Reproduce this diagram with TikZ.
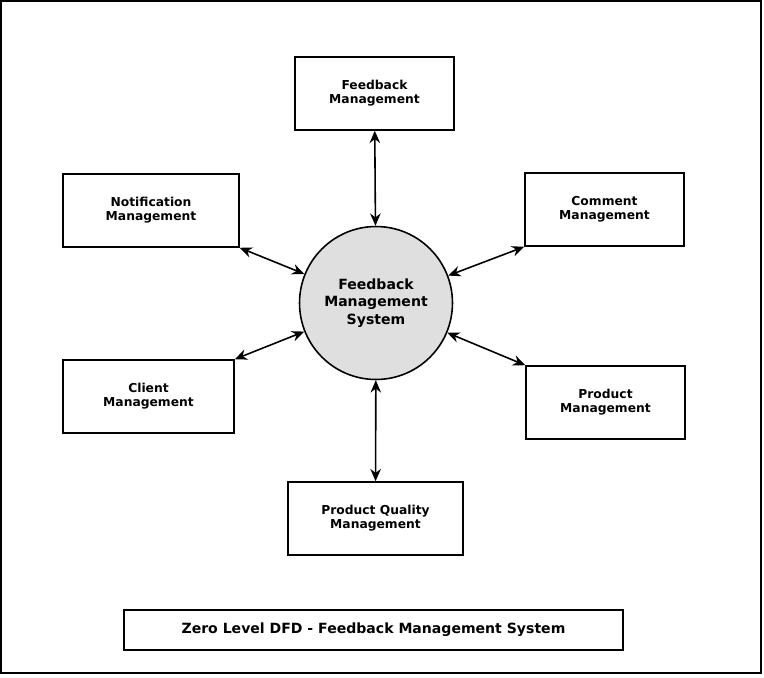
\documentclass[tikz,border=0pt]{standalone}
\usepackage{fontspec}
\setmainfont{DejaVu Sans}
\usetikzlibrary{arrows.meta}
\begin{document}
\begin{tikzpicture}[x=0.02cm, y=-0.02cm, >={Stealth[length=7pt,width=6pt]}, line width=0.9pt]
        \tikzset{block/.style = {draw, rectangle, minimum height=1.46cm, align=center, font=\fontsize{7}{8}\selectfont\bfseries}}
        \useasboundingbox (0,0) rectangle (764,677);
        \draw (1,1) rectangle (761,673);

        \node [circle, draw, fill=gray!25, minimum size=3.06cm, align=center, font=\fontsize{8}{10}\selectfont\bfseries] (sys) at (376,303) {Feedback\\ Management\\ System};
        \node [block, minimum width=3.18cm] (fbm) at (374.5,93.5) {Feedback\\ Management};
        \node [block, minimum width=3.52cm] (notif) at (151,210.5) {Notification\\ Management};
        \node [block, minimum width=3.18cm] (comment) at (604.5,209.5) {Comment\\ Management};
        \node [block, minimum width=3.42cm] (client) at (148.5,396.5) {Client\\ Management};
        \node [block, minimum width=3.18cm] (product) at (605.5,402.5) {Product\\ Management};
        \node [block, minimum width=3.5cm] (quality) at (375.5,518.5) {Product Quality\\ Management};
        \node [draw, minimum width=9.98cm, minimum height=0.8cm, font=\fontsize{8}{10}\selectfont\bfseries] (title) at (373.5,630) {Zero Level DFD - Feedback Management System};

        \draw [<->] (fbm) -- (sys);
        \draw [<->] (notif.south east) -- (sys);
        \draw [<->] (comment.south west) -- (sys);
        \draw [<->] (client.north east) -- (sys);
        \draw [<->] (product.north west) -- (sys);
        \draw [<->] (quality) -- (sys);
    \end{tikzpicture}
\end{document}
